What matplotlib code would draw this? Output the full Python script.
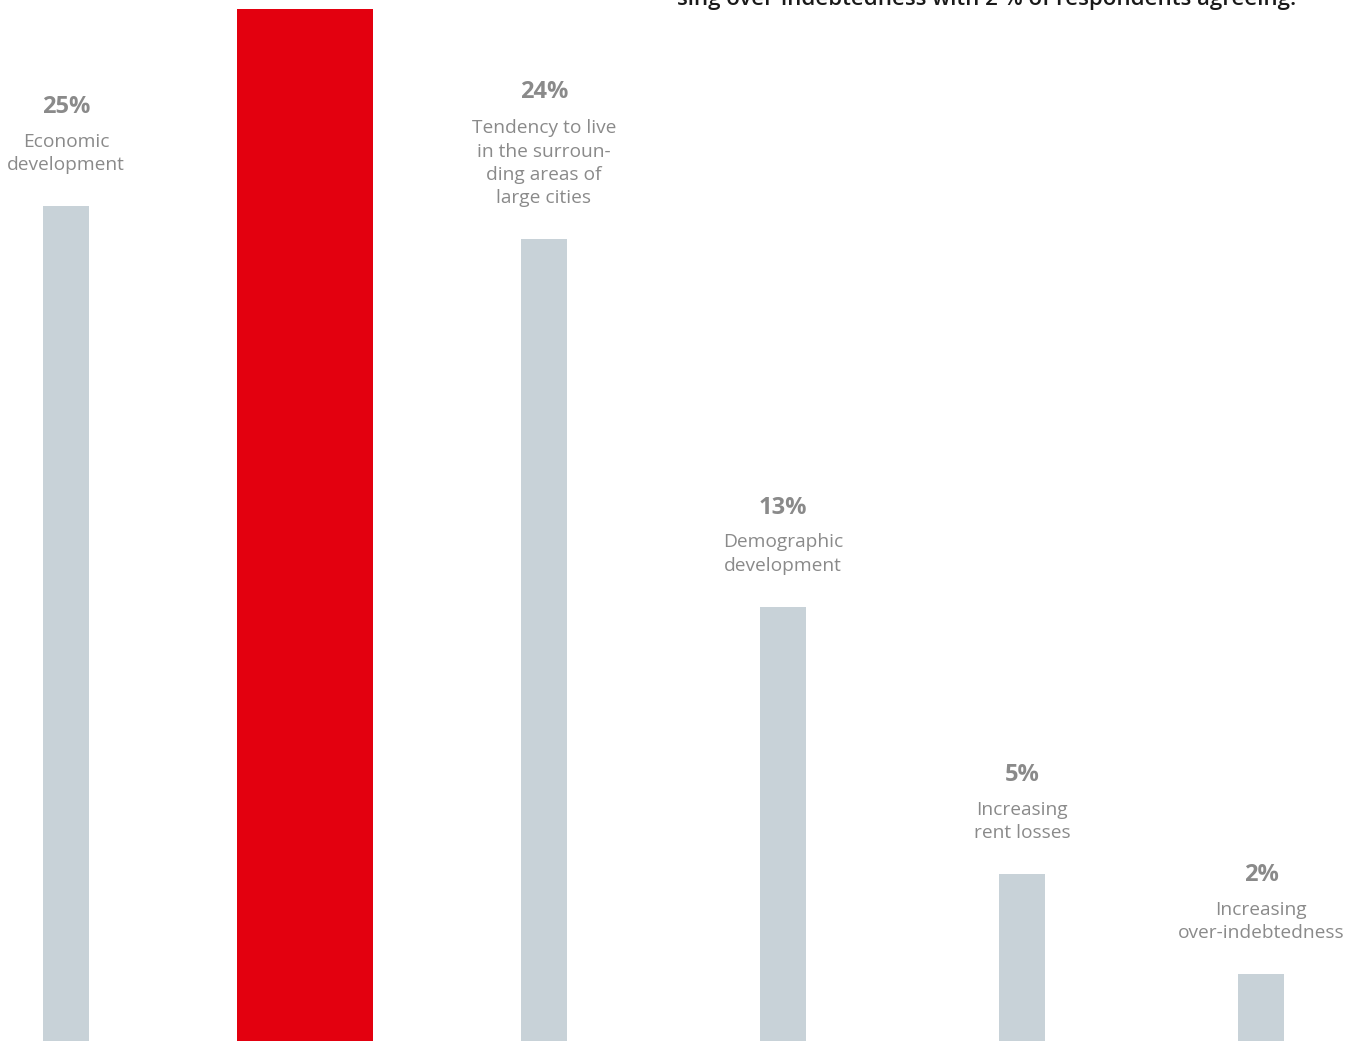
import matplotlib
matplotlib.use("Agg")
from matplotlib import pyplot as plt
import numpy as np

plt.rcParams['font.family'] = ['Open Sans', 'DejaVu Sans']

# data
categories = ['Economic\ndevelopment', '',
              'Tendency to live\nin the surroun-\nding areas of\nlarge cities',
              'Demographic\ndevelopment', 'Increasing\nrent losses',
              'Increasing\nover-indebtedness']
values = [25, 30.9, 24, 13, 5, 2]
pct_labels = ['25%', '', '24%', '13%', '5%', '2%']
highlight = [False, True, False, False, False, False]

GREY = '#c8d2d8'
RED = '#e3000f'
TXT = '#8a8a8a'

fig = plt.figure(figsize=(13.57, 10.41), dpi=100)
ax = fig.add_axes([0, 0, 1, 1])

x = np.arange(len(values))
widths = [0.569 if h else 0.1925 for h in highlight]
colors = [RED if h else GREY for h in highlight]
ax.bar(x, values, width=widths, color=colors, linewidth=0)

for xi, v, lab, pct, h in zip(x, values, categories, pct_labels, highlight):
    if h:
        continue
    nlines = lab.count('\n') + 1
    ax.annotate(lab, (xi, v), xytext=(0, 32), textcoords='offset pixels',
                ha='center', va='bottom', fontsize=13.8, color=TXT,
                linespacing=1.38)
    ax.annotate(pct, (xi, v), xytext=(0, 32 + 24 * nlines + 7),
                textcoords='offset pixels', ha='center', va='bottom',
                fontsize=17, fontweight='bold', color=TXT)

# clipped heading text at top
fig.text(677 / 1357, 1 - 5 / 1041, 'sing over-indebtedness with 2 % of respondents agreeing.',
         ha='left', va='baseline', fontsize=16, fontweight='semibold', color='#1a1a1a')

ax.set_xlim(-66 / 239, (1357 - 66) / 239)
ax.set_ylim(0, 1041 / 33.4)
ax.axis('off')

fig.savefig('out.png', dpi=100)
